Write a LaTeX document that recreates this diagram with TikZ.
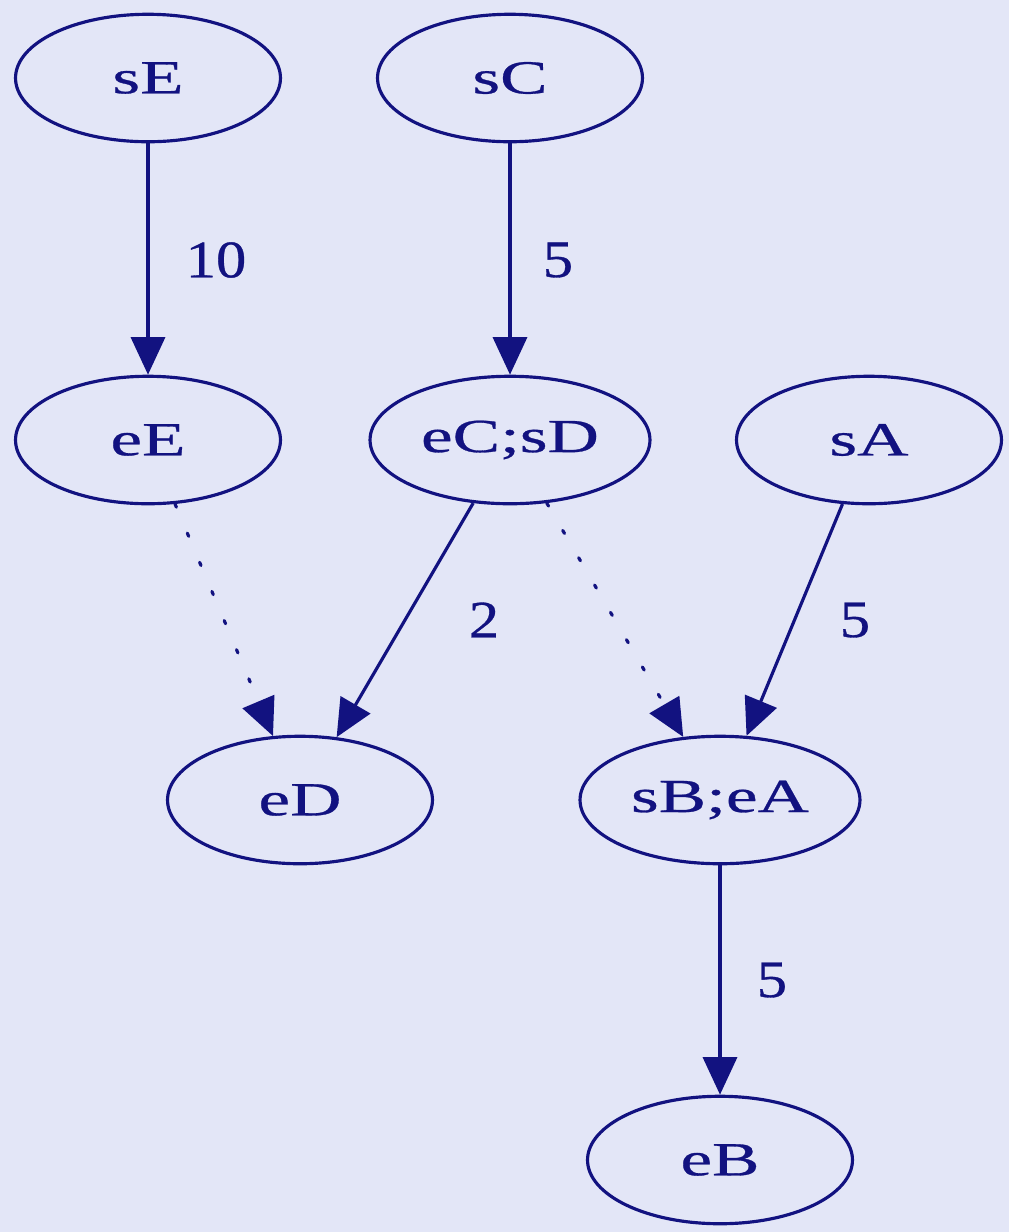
\documentclass[tikz,border=0pt]{standalone}
\usepackage{fontspec}
\setmainfont{Liberation Serif}
\newfontfamily\nodefont[FakeStretch=1.5,FakeBold=0.6]{Liberation Serif}
\newfontfamily\labfont[FakeStretch=1.15,FakeBold=0.6]{Liberation Serif}
\usetikzlibrary{shapes.geometric,arrows.meta}
\definecolor{bgc}{RGB}{227,230,247}
\definecolor{navy}{RGB}{18,18,128}
\tikzset{
  gnode/.style={ellipse, draw=navy, line width=1.8pt, minimum width=5.3cm, minimum height=2.55cm, inner sep=0pt, text=navy, font=\nodefont\fontsize{27}{30}\selectfont},
  widenode/.style={gnode, minimum width=5.6cm},
  edge/.style={draw=navy, line width=1.8pt, -{Triangle[length=0.75cm,width=0.68cm]}},
  dotedge/.style={edge, dash pattern=on 2pt off 16pt, line cap=round},
  elab/.style={text=navy, font=\labfont\fontsize{30}{34}\selectfont}
}
\begin{document}
\begin{tikzpicture}[x=0.02cm,y=-0.02cm]
\fill[bgc] (0,0) rectangle (1009,1232);
\useasboundingbox (0,0) rectangle (1009,1232);
\node[gnode] (sE) at (148,78) {sE};
\node[gnode] (sC) at (510,78) {sC};
\node[gnode] (eE) at (148,440) {eE};
\node[widenode] (eCsD) at (510,440) {eC;sD};
\node[gnode] (sA) at (869,440) {sA};
\node[gnode] (eD) at (300,800) {eD};
\node[widenode] (sBeA) at (720,800) {sB;eA};
\node[gnode] (eB) at (720,1160) {eB};
\draw[edge] (sE) -- (eE);
\draw[edge] (sC) -- (eCsD);
\draw[dotedge] (eE) -- (eD);
\draw[edge] (eCsD) -- (eD);
\draw[dotedge] (eCsD) -- (sBeA);
\draw[edge] (sA) -- (sBeA);
\draw[edge] (sBeA) -- (eB);
\node[elab] (l1) at (216,260) {10};
\node[elab] (l2) at (558,260) {5};
\node[elab] (l3) at (484,620) {2};
\node[elab] (l4) at (855,620) {5};
\node[elab] (l5) at (772,980) {5};
\end{tikzpicture}
\end{document}
